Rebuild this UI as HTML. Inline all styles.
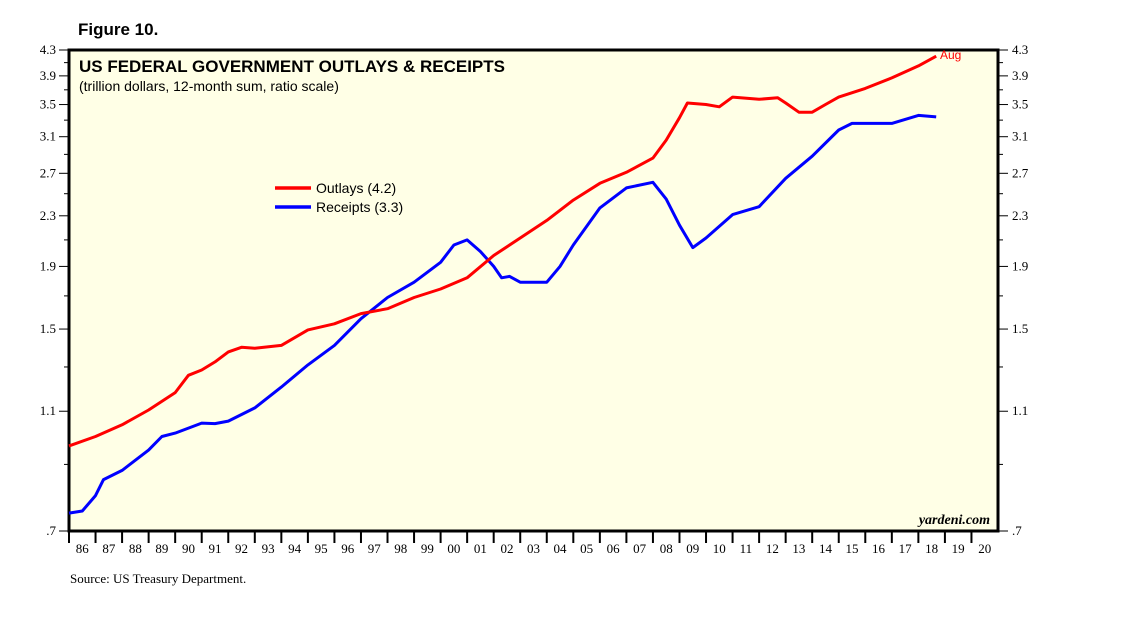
<!DOCTYPE html>
<html><head><meta charset="utf-8"><style>
body{margin:0;background:#fff}
svg{display:block}
.t{font-family:"Liberation Serif",serif;font-size:13px;fill:#000}
</style></head><body>
<svg id="c" width="1138" height="629" xmlns="http://www.w3.org/2000/svg">
<text x="78" y="35" font-family="Liberation Sans,sans-serif" font-weight="bold" font-size="17">Figure 10.</text>
<rect x="69" y="50" width="929" height="481" fill="#ffffe6" stroke="#000" stroke-width="3"/>
<text x="79" y="72" font-family="Liberation Sans,sans-serif" font-weight="bold" font-size="17">US FEDERAL GOVERNMENT OUTLAYS &amp; RECEIPTS</text>
<text x="79" y="91" font-family="Liberation Sans,sans-serif" font-size="14">(trillion dollars, 12-month sum, ratio scale)</text>
<g id="ax"></g>
<g id="series"></g>
<line x1="275" y1="188" x2="311" y2="188" stroke="#f00" stroke-width="3.5"/>
<text x="316" y="193" font-family="Liberation Sans,sans-serif" font-size="14">Outlays (4.2)</text>
<line x1="275" y1="207" x2="311" y2="207" stroke="#00f" stroke-width="3.5"/>
<text x="316" y="212" font-family="Liberation Sans,sans-serif" font-size="14">Receipts (3.3)</text>
<text x="940" y="59" font-family="Liberation Sans,sans-serif" font-size="12" fill="#f00">Aug</text>
<text x="990" y="524" text-anchor="end" font-family="Liberation Serif,serif" font-style="italic" font-weight="bold" font-size="14">yardeni.com</text>
<text x="70" y="583" class="t">Source: US Treasury Department.</text>
</svg>
<script>
const yTicks=[4.3,3.9,3.5,3.1,2.7,2.3,1.9,1.5,1.1,0.7];
const yTickLabels=["4.3","3.9","3.5","3.1","2.7","2.3","1.9","1.5","1.1",".7"];
const yearLabels=["86","87","88","89","90","91","92","93","94","95","96","97","98","99","00","01","02","03","04","05","06","07","08","09","10","11","12","13","14","15","16","17","18","19","20"];
const outlayYears=[1986,1987,1988,1989,1990,1990.5,1991,1991.5,1992,1992.5,1993,1994,1995,1996,1997,1998,1999,2000,2001,2002,2003,2004,2005,2006,2007,2008,2008.5,2009,2009.3,2010,2010.5,2011,2012,2012.7,2013,2013.5,2014,2014.5,2015,2016,2017,2018,2018.67];
const outlays=[0.965,1.0,1.045,1.105,1.18,1.26,1.285,1.325,1.376,1.40,1.395,1.41,1.495,1.53,1.59,1.62,1.69,1.745,1.82,1.98,2.115,2.26,2.44,2.60,2.71,2.86,3.06,3.33,3.52,3.50,3.47,3.60,3.57,3.59,3.52,3.40,3.40,3.50,3.60,3.72,3.87,4.05,4.2];
const receiptYears=[1986,1986.5,1987,1987.3,1988,1989,1989.5,1990,1991,1991.5,1992,1993,1994,1995,1996,1997,1998,1999,2000,2000.5,2001,2001.5,2002,2002.3,2002.6,2003,2004,2004.5,2005,2006,2007,2008,2008.5,2009,2009.5,2010,2011,2012,2013,2014,2015,2015.5,2016,2017,2018,2018.67];
const receipts=[0.749,0.755,0.80,0.85,0.88,0.95,1.0,1.013,1.052,1.05,1.06,1.114,1.205,1.31,1.41,1.56,1.69,1.79,1.93,2.06,2.10,2.01,1.90,1.82,1.83,1.79,1.79,1.90,2.06,2.37,2.555,2.61,2.45,2.22,2.04,2.115,2.31,2.38,2.65,2.88,3.18,3.26,3.26,3.26,3.36,3.34];
const X0=69,X1=998,Y0=50,Y1=531,YR0=1986,YR1=2021,VMAX=4.3,VMIN=0.7;
const NS="http://www.w3.org/2000/svg";
function xs(t){return X0+(t-YR0)/(YR1-YR0)*(X1-X0);}
function ys(v){return Y0+(Math.log(VMAX)-Math.log(v))/(Math.log(VMAX)-Math.log(VMIN))*(Y1-Y0);}
function mk(tag,at,parent){const e=document.createElementNS(NS,tag);for(const k in at)e.setAttribute(k,at[k]);parent.appendChild(e);return e;}
const ax=document.getElementById('ax');
yTicks.forEach((v,i)=>{const y=ys(v);
 let l=mk('line',{x1:59,x2:69,y1:y,y2:y,stroke:'#000'},ax);
 
 
 let r=mk('line',{x1:998,x2:1008,y1:y,y2:y,stroke:'#000'},ax);
 
 
 let t=mk('text',{x:56,y:y+4,'text-anchor':'end','class':'t'},ax);t.textContent=yTickLabels[i];
 
 
 let t2=mk('text',{x:1012,y:y+4,'class':'t'},ax);t2.textContent=yTickLabels[i];
 
 
});
for(let i=0;i<yTicks.length-1;i++){const y=ys((yTicks[i]+yTicks[i+1])/2);
 let a=mk('line',{x1:64,x2:69,y1:y,y2:y,stroke:'#000'},ax);
 
 
 let b=mk('line',{x1:998,x2:1003,y1:y,y2:y,stroke:'#000'},ax);
 
 
}
yearLabels.forEach((s,i)=>{const x=xs(YR0+i);
 let l=mk('line',{x1:x,x2:x,y1:531,y2:543,stroke:'#000','stroke-width':2},ax);
 
 
 let t=mk('text',{x:xs(YR0+i+0.5),y:553,'text-anchor':'middle','class':'t'},ax);t.textContent=s;
 
 
});
const sg=document.getElementById('series');
function line(xsArr,vals,col,name){const d=vals.map((v,i)=>(i?'L':'M')+xs(xsArr[i]).toFixed(1)+','+ys(v).toFixed(1)).join('');
 const p=mk('path',{d:d,fill:'none',stroke:col,'stroke-width':3,'stroke-linejoin':'round'},sg);
 
 
}
line(receiptYears,receipts,'#00f','receipts-line');
line(outlayYears,outlays,'#f00','outlays-line');
</script>
</body></html>
